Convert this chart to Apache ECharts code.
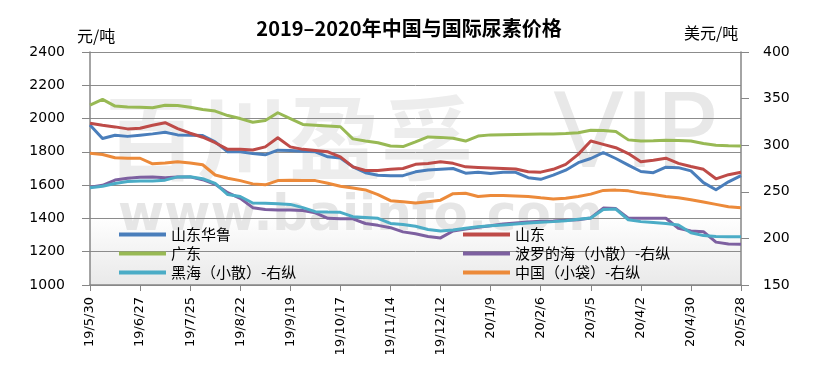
<!DOCTYPE html>
<html><head><meta charset="utf-8">
<script src="https://cdn.jsdelivr.net/npm/echarts@6/dist/echarts.min.js"></script>
<style>html,body{margin:0;padding:0;background:#fff}#c{width:818px;height:380px}</style>
</head><body><div id="c"></div>
<script>
const categories = [
  '19/5/30','19/6/6','19/6/13','19/6/20','19/6/27','19/7/4','19/7/11','19/7/18','19/7/25','19/8/1',
  '19/8/8','19/8/15','19/8/22','19/8/29','19/9/5','19/9/12','19/9/19','19/9/26','19/10/3','19/10/10',
  '19/10/17','19/10/24','19/10/31','19/11/7','19/11/14','19/11/21','19/11/28','19/12/5','19/12/12','19/12/19',
  '19/12/26','20/1/2','20/1/9','20/1/16','20/1/23','20/1/30','20/2/6','20/2/13','20/2/20','20/2/27',
  '20/3/5','20/3/12','20/3/19','20/3/26','20/4/2','20/4/9','20/4/16','20/4/23','20/4/30','20/5/7',
  '20/5/14','20/5/21','20/5/28'
];
const shandongHualu = [
  1961,1880,1900,1893,1900,1908,1918,1902,1900,1898,
  1860,1800,1800,1790,1782,1810,1808,1803,1800,1770,
  1763,1710,1675,1660,1657,1657,1680,1691,1695,1700,
  1672,1677,1670,1677,1677,1645,1635,1660,1690,1735,
  1760,1795,1760,1720,1682,1675,1708,1705,1686,1615,
  1572,1620,1657
];
const shandong = [
  1972,1960,1950,1938,1942,1960,1975,1940,1912,1888,
  1855,1815,1815,1811,1830,1885,1830,1815,1808,1800,
  1770,1710,1688,1688,1695,1700,1725,1730,1740,1731,
  1710,1706,1703,1700,1697,1680,1678,1695,1725,1785,
  1865,1845,1825,1790,1740,1750,1762,1731,1712,1695,
  1638,1663,1677
];
const guangdong = [
  2081,2115,2075,2070,2068,2065,2080,2078,2068,2055,
  2045,2018,2000,1978,1988,2035,2000,1965,1960,1955,
  1951,1878,1865,1855,1835,1832,1860,1890,1887,1882,
  1865,1895,1902,1903,1905,1906,1907,1908,1910,1915,
  1930,1928,1922,1872,1865,1866,1870,1868,1865,1850,
  1840,1836,1835
];
const baltic = [
  255,257,262.6,264.5,265.5,266,265,266,266,263,
  258,249,243,233,231,230.5,230.5,230,227.5,221.5,
  221,221,216,214,211.5,207,205,202,200.5,208,
  210,212,213.5,215.5,216.5,217.5,218.5,218.7,219.5,220,
  222,232.5,232,221.6,221.6,221.6,221.6,210.8,208,207.2,
  196,194,193.7
];
const blackSea = [
  254.4,256,259,261,261.5,261.6,262.5,266,266.2,264,
  259,247,245,238,237.7,237.2,236.5,233,228.7,228.2,
  228,223.3,222.5,221.6,216,215,213,209.5,208,209,
  211,212.5,213.5,214.4,215.5,216.5,217.3,218,219,220.5,
  222,231,231.5,220,218,217,216,214.4,206,203,
  202,201.8,201.8
];
const chinaBag = [
  291.3,290,286.5,286,286,280,281,282.3,281,279,
  268,264.5,262,258.5,257.5,262,262.5,262.2,262,259.2,
  256,254,252,247,240.5,239.4,238,239.4,241,248,
  248.4,245,246,246,245.5,245,243.5,242.3,243,245,
  247.5,251.5,251.8,251,248.6,247,245,243.5,241.5,239,
  236.5,234,233
];
const seriesNames = ['山东华鲁','山东','广东','波罗的海（小散）-右纵','黑海（小散）-右纵','中国（小袋）-右纵'];
const seriesColors = ['#4a7ebb','#be4b48','#98b954','#7d60a0','#4bacc6','#ec8a3a'];

const chart = echarts.init(document.getElementById('c'));
const axisGray = '#868686';
const lbl = {color:'#000', fontFamily:'DejaVu Sans', fontSize:14, formatter:function(v){return String(v);}};
function line(name, data, idx, yIdx){
  return {name, type:'line', data, yAxisIndex:yIdx, showSymbol:false, symbol:'none',
    lineStyle:{width:3, color:seriesColors[idx], join:'round'}, itemStyle:{color:seriesColors[idx]}, z:2+idx};
}
chart.setOption({
  animation:false,
  backgroundColor:'#fff',
  title:{text:'2019–2020年中国与国际尿素价格', left:'center', top:13,
    textStyle:{fontFamily:'Noto Sans CJK SC', fontWeight:'bold', fontSize:20, color:'#000'}},
  grid:{left:90, right:77, top:52, bottom:95},
  graphic:[
    {type:'rect', z:-20, shape:{x:90,y:52,width:651,height:233},
      style:{fill:new echarts.graphic.LinearGradient(0,0,0,1,[{offset:0,color:'#ffffff'},{offset:0.7,color:'#ffffff'},{offset:1,color:'#e9e9e9'}])}},
    {type:'text', z:-10, left:105, top:92, style:{text:'百川盈孚', fontSize:92, fontWeight:'bold', fontFamily:'Noto Sans CJK SC', fill:'#ededed'}},
    {type:'text', z:-10, left:553, top:88, style:{text:'VIP', fontSize:104, fontFamily:'DejaVu Sans', fill:'#e8e8e8'}},
    {type:'text', z:-10, left:118, top:192, style:{text:'www.baiinfo.com', fontSize:50, fontWeight:'bold', fontFamily:'DejaVu Sans', fill:'#e6e6e6'}},
    {type:'text', left:77, top:28, style:{text:'元/吨', fontSize:16, fontFamily:'Noto Sans CJK SC', fill:'#000'}},
    {type:'text', left:684, top:25, style:{text:'美元/吨', fontSize:16, fontFamily:'Noto Sans CJK SC', fill:'#000'}}
  ],
  legend:[
    {left:114, top:220, orient:'vertical', itemGap:0, itemWidth:47, itemHeight:4, icon:'rect',
      data:[seriesNames[0],seriesNames[2],seriesNames[4]],
      textStyle:{color:'#000', fontSize:15, lineHeight:19, fontFamily:'Noto Sans CJK SC'}},
    {left:458, top:220, orient:'vertical', itemGap:0, itemWidth:47, itemHeight:4, icon:'rect',
      data:[seriesNames[1],seriesNames[3],seriesNames[5]],
      textStyle:{color:'#000', fontSize:15, lineHeight:19, fontFamily:'Noto Sans CJK SC'}}
  ],
  xAxis:{type:'category', data:categories, boundaryGap:false,
    axisLine:{lineStyle:{color:axisGray, width:1.5}},
    axisTick:{interval:3, length:6, lineStyle:{color:axisGray}},
    axisLabel:{interval:3, rotate:90, margin:12, color:'#000', fontFamily:'DejaVu Sans', fontSize:13},
    splitLine:{show:false}},
  yAxis:[
    {type:'value', min:1000, max:2400, interval:200, position:'left',
      axisLine:{show:true, lineStyle:{color:axisGray, width:1.5}},
      axisTick:{show:true, length:8, lineStyle:{color:axisGray}},
      axisLabel:Object.assign({margin:25}, lbl),
      splitLine:{show:true, lineStyle:{color:'#8c8c8c', width:1}}},
    {type:'value', min:150, max:400, interval:50, position:'right',
      axisLine:{show:true, lineStyle:{color:axisGray, width:1.5}},
      axisTick:{show:true, length:8, lineStyle:{color:axisGray}},
      axisLabel:Object.assign({margin:22}, lbl),
      splitLine:{show:false}}
  ],
  series:[
    line(seriesNames[0], shandongHualu, 0, 0),
    line(seriesNames[1], shandong, 1, 0),
    line(seriesNames[2], guangdong, 2, 0),
    line(seriesNames[3], baltic, 3, 1),
    line(seriesNames[4], blackSea, 4, 1),
    line(seriesNames[5], chinaBag, 5, 1)
  ]
});
</script></body></html>
